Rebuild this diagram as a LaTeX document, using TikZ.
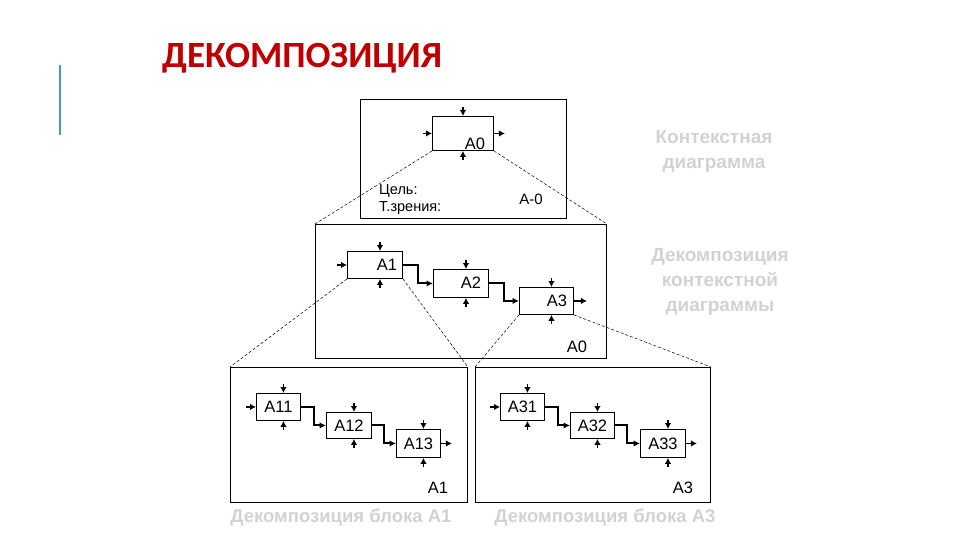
\documentclass[tikz,border=0pt]{standalone}
\usepackage{fontspec}
\setmainfont{Liberation Sans}
\newfontfamily\titlefont{Carlito}
\usetikzlibrary{arrows.meta}
\definecolor{titlered}{HTML}{C00000}
\definecolor{tealbar}{HTML}{3BA3AB}
\definecolor{ghost}{HTML}{D2D2D2}
\begin{document}
\begin{tikzpicture}[x=1pt,y=-1pt,
  frame/.style={draw, line width=0.9pt, inner sep=0pt, anchor=north west},
  blk/.style={draw, line width=0.9pt, inner sep=0pt, anchor=north west, font=\fontsize{16.5}{16.5}\selectfont},
  lbl/.style={font=\fontsize{16.5}{16.5}\selectfont, inner sep=0pt},
  smalllbl/.style={font=\fontsize{14.5}{14.5}\selectfont, inner sep=0pt, anchor=west},
  sarr/.style={line width=1.1pt, -{Latex[length=6pt,width=6.5pt]}},
  flow/.style={line width=2pt, -{Latex[length=6.5pt,width=6.5pt]}},
  zoomline/.style={line width=0.5pt, dash pattern=on 3pt off 2pt},
  ghosttxt/.style={text=ghost, font=\bfseries\fontsize{19}{25}\selectfont, align=center, inner sep=0pt},
  captxt/.style={text=ghost, font=\bfseries\fontsize{18.5}{18.5}\selectfont, inner sep=0pt}]
\useasboundingbox (0,0) rectangle (960,540);

% title and accent bar
\node[anchor=west, inner sep=0pt, text=titlered, font=\titlefont\bfseries\fontsize{37}{37}\selectfont] (title) at (162,58) {ДЕКОМПОЗИЦИЯ};
\coordinate (bartop) at (60,65);
\coordinate (barbot) at (60,135);
\draw[tealbar, line width=2pt] (bartop) -- (barbot);

% frames
\node[frame, minimum width=206pt, minimum height=119pt] (ctx) at (360,99) {};
\node[frame, minimum width=291pt, minimum height=134pt] (mid) at (315,224) {};
\node[frame, minimum width=237pt, minimum height=135pt] (left) at (230,367) {};
\node[frame, minimum width=235pt, minimum height=135pt] (right) at (475,367) {};

% context diagram
\node[blk, minimum width=61pt, minimum height=34pt] (a0) at (432,116) {};
\node[lbl] (a0t) at (475,144) {A0};
\draw[sarr] ([yshift=9pt]a0.north) -- (a0.north);
\draw[sarr] ([yshift=-9pt]a0.south) -- (a0.south);
\draw[sarr] ([xshift=-9pt]a0.west) -- (a0.west);
\draw[sarr] (a0.east) -- ([xshift=11pt]a0.east);
\node[smalllbl] (goal) at (379,191) {Цель:};
\node[smalllbl] (view) at (379,208) {Т.зрения:};
\node[lbl, font=\fontsize{15}{15}\selectfont] (am0) at (531,199) {A-0};

% decomposition of context
\node[blk, minimum width=55pt, minimum height=27pt] (a1) at (347,251) {};
\node[blk, minimum width=55pt, minimum height=28pt] (a2) at (433,269) {};
\node[blk, minimum width=54pt, minimum height=27pt] (a3) at (519,287) {};
\node[lbl] (a1t) at (387,265) {A1};
\node[lbl] (a2t) at (471,283) {A2};
\node[lbl] (a3t) at (557,301) {A3};
\node[lbl] (midt) at (577,347) {A0};
\foreach \b in {a1,a2,a3}{
  \draw[sarr] ([xshift=5pt,yshift=9pt]\b.north) -- ([xshift=5pt]\b.north);
  \draw[sarr] ([xshift=5pt,yshift=-9pt]\b.south) -- ([xshift=5pt]\b.south);
}
\draw[sarr] ([xshift=-10pt]a1.west) -- (a1.west);
\draw[sarr] (a3.east) -- ([xshift=13pt]a3.east);
\draw[flow] (a1.east) -- ++(15,0) |- (a2.west);
\draw[flow] (a2.east) -- ++(15,0) |- (a3.west);

% block A1 decomposition
\node[blk, minimum width=44pt, minimum height=27pt] (a11) at (256,393) {A11};
\node[blk, minimum width=45pt, minimum height=26pt] (a12) at (326,412) {A12};
\node[blk, minimum width=44pt, minimum height=28pt] (a13) at (396,429) {A13};
\node[lbl] (leftt) at (438,488) {A1};
% block A3 decomposition
\node[blk, minimum width=44pt, minimum height=27pt] (a31) at (500,393) {A31};
\node[blk, minimum width=44pt, minimum height=26pt] (a32) at (570,412) {A32};
\node[blk, minimum width=45pt, minimum height=28pt] (a33) at (640,429) {A33};
\node[lbl] (rightt) at (683,488) {A3};
\foreach \b in {a11,a12,a13,a31,a32,a33}{
  \draw[sarr] ([xshift=5pt,yshift=9pt]\b.north) -- ([xshift=5pt]\b.north);
  \draw[sarr] ([xshift=5pt,yshift=-9pt]\b.south) -- ([xshift=5pt]\b.south);
}
\draw[sarr] ([xshift=-10pt]a11.west) -- (a11.west);
\draw[sarr] (a13.east) -- ([xshift=11pt]a13.east);
\draw[sarr] ([xshift=-10pt]a31.west) -- (a31.west);
\draw[sarr] (a33.east) -- ([xshift=11pt]a33.east);
\draw[flow] (a11.east) -- ++(13,0) |- (a12.west);
\draw[flow] (a12.east) -- ++(12,0) |- (a13.west);
\draw[flow] (a31.east) -- ++(13,0) |- (a32.west);
\draw[flow] (a32.east) -- ++(12,0) |- (a33.west);

% zoom lines
\draw[zoomline] (a0.south west) -- (mid.north west);
\draw[zoomline] (a0.south east) -- (mid.north east);
\draw[zoomline] (a1.south west) -- (left.north west);
\draw[zoomline] (a1.south east) -- (left.north east);
\draw[zoomline] (a3.south west) -- (right.north west);
\draw[zoomline] (a3.south east) -- (right.north east);

% ghost texts
\node[ghosttxt] (ctxcap) at (714,151) {Контекстная\\диаграмма};
\node[ghosttxt] (midcap) at (720,282) {Декомпозиция\\контекстной\\диаграммы};
\node[captxt] (leftcap) at (341,518) {Декомпозиция блока A1};
\node[captxt] (rightcap) at (605,518) {Декомпозиция блока A3};
\end{tikzpicture}
\end{document}
